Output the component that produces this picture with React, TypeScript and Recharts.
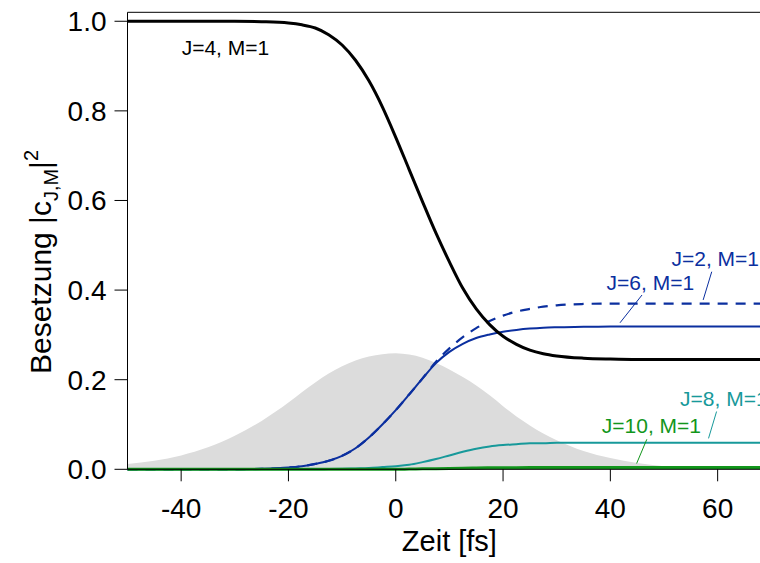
import React from "react";
import {
  ComposedChart,
  Area,
  Line,
  XAxis,
  YAxis,
  ReferenceLine,
  ReferenceDot,
  Label,
} from "recharts";

// time axis in fs
const time = [
  -50, -45, -40, -35, -30, -25, -20, -17.5, -15, -12.5, -10, -7.5, -5, -2.5, 0,
  2.5, 5, 7.5, 10, 12.5, 15, 17.5, 20, 22.5, 25, 27.5, 30, 35, 40, 45, 50, 55,
  60, 65, 70,
];

// laser pulse envelope (grey)
const pulse = [
  0.012, 0.019, 0.031, 0.049, 0.075, 0.108, 0.149, 0.172, 0.194, 0.214, 0.23,
  0.243, 0.252, 0.257, 0.259, 0.256, 0.249, 0.237, 0.223, 0.206, 0.187, 0.165,
  0.141, 0.118, 0.098, 0.08, 0.065, 0.041, 0.025, 0.014, 0.007, 0.003, 0.001,
  0, 0,
];

const j4 = [
  1, 1, 1, 1, 1, 0.999, 0.996, 0.992, 0.985, 0.97, 0.947, 0.913, 0.867, 0.809,
  0.741, 0.669, 0.597, 0.527, 0.463, 0.404, 0.358, 0.323, 0.297, 0.279, 0.266,
  0.258, 0.253, 0.248, 0.246, 0.245, 0.245, 0.245, 0.245, 0.245, 0.245,
];

const j2 = [
  0, 0, 0, 0, 0, 0.001, 0.004, 0.007, 0.012, 0.019, 0.03, 0.047, 0.071, 0.1,
  0.132, 0.167, 0.203, 0.24, 0.27, 0.295, 0.315, 0.331, 0.343, 0.352, 0.358,
  0.363, 0.366, 0.369, 0.37, 0.37, 0.37, 0.37, 0.37, 0.37, 0.37,
];

const j6 = [
  0, 0, 0, 0, 0, 0.001, 0.004, 0.007, 0.012, 0.019, 0.03, 0.047, 0.071, 0.1,
  0.132, 0.167, 0.203, 0.237, 0.262, 0.28, 0.293, 0.301, 0.307, 0.311, 0.314,
  0.316, 0.317, 0.318, 0.319, 0.319, 0.319, 0.319, 0.319, 0.319, 0.319,
];

const j8 = [
  0, 0, 0, 0, 0, 0, 0, 0, 0, 0.0005, 0.001, 0.002, 0.003, 0.005, 0.007, 0.01,
  0.016, 0.023, 0.031, 0.039, 0.046, 0.051, 0.054, 0.056, 0.058, 0.058, 0.059,
  0.059, 0.059, 0.059, 0.059, 0.059, 0.059, 0.059, 0.059,
];

const j10 = [
  0, 0, 0, 0, 0, 0, 0, 0, 0, 0, 0, 0, 0, 0, 0, 0.0005, 0.001, 0.0015, 0.002,
  0.0025, 0.003, 0.0033, 0.0035, 0.0037, 0.0038, 0.004, 0.004, 0.004, 0.004,
  0.004, 0.004, 0.004, 0.004, 0.004, 0.004,
];

const xTicks = [-40, -20, 0, 20, 40, 60];
const yTicks = [0, 0.2, 0.4, 0.6, 0.8, 1.0];

const BLUE = "#0b2f9f";
const TEAL = "#17999a";
const GREEN = "#12961c";
const FONT = "'Liberation Sans', Arial, Helvetica, sans-serif";

// state labels: text anchor (data coords) + leader line
const labels = [
  { text: "J=4, M=1", x: -39.9, y: 0.925, color: "#000", leader: null },
  { text: "J=2, M=1", x: 51.4, y: 0.454, color: BLUE, leader: [58.9, 0.441, 57.3, 0.378] },
  { text: "J=6, M=1", x: 39.3, y: 0.401, color: BLUE, leader: [45.9, 0.389, 41.8, 0.327] },
  { text: "J=8, M=1", x: 53.0, y: 0.141, color: TEAL, leader: [59.8, 0.129, 58.3, 0.069] },
  { text: "J=10, M=1", x: 38.4, y: 0.08, color: GREEN, leader: [46.8, 0.067, 44.9, 0.013] },
];

const data = time.map((t, i) => ({
  t,
  pulse: pulse[i],
  j4: j4[i],
  j2: j2[i],
  j6: j6[i],
  j8: j8[i],
  j10: j10[i],
}));

const YTitle = () => (
  <text
    transform="rotate(-90)"
    x={-262}
    y={51}
    textAnchor="middle"
    fontSize={30}
    fontFamily={FONT}
    fill="#000"
  >
    Besetzung |c
    <tspan fontSize={20} dy={7}>
      J,M
    </tspan>
    <tspan dy={-7}>|</tspan>
    <tspan fontSize={20} dy={-13}>
      2
    </tspan>
  </text>
);

const XTitle = (props: any) => {
  const vb = props.viewBox;
  return (
    <text
      x={vb.x + vb.width / 2}
      y={vb.y + 82}
      textAnchor="middle"
      fontSize={29}
      fontFamily={FONT}
      fill="#000"
    >
      Zeit [fs]
    </text>
  );
};

export default function App() {
  return (
    <div
      style={{
        position: "fixed",
        left: 0,
        top: 0,
        width: 760,
        height: 563,
        overflow: "hidden",
        background: "#fff",
      }}
    >
      <ComposedChart
        width={780}
        height={563}
        data={data}
        margin={{ top: 12.3, right: 8.7, left: 0, bottom: 33.7 }}
      >
        <XAxis
          dataKey="t"
          type="number"
          domain={[-50, 70]}
          ticks={xTicks}
          height={60}
          tickSize={12}
          tickMargin={17}
          stroke="#000"
          axisLine={{ stroke: "#000", strokeWidth: 1 }}
          tickLine={{ stroke: "#000", strokeWidth: 1 }}
          tick={{ fill: "#000", fontSize: 28, fontFamily: FONT }}
        >
          <Label content={XTitle} />
        </XAxis>
        <YAxis
          type="number"
          domain={[0, 1.02]}
          ticks={yTicks}
          width={127.5}
          tickSize={13}
          tickMargin={8}
          tickFormatter={(v: number) => v.toFixed(1)}
          axisLine={{ stroke: "#000", strokeWidth: 1 }}
          tickLine={{ stroke: "#000", strokeWidth: 1 }}
          tick={{ fill: "#000", fontSize: 28, fontFamily: FONT }}
        >
          <Label content={YTitle} />
        </YAxis>
        <ReferenceLine y={1.02} stroke="#000" strokeWidth={1} />
        <Area
          dataKey="pulse"
          type="monotone"
          fill="#dcdcdc"
          fillOpacity={1}
          stroke="none"
          isAnimationActive={false}
        />
        <Line dataKey="j8" type="monotone" stroke={TEAL} strokeWidth={2} dot={false} isAnimationActive={false} />
        <Line dataKey="j6" type="monotone" stroke={BLUE} strokeWidth={2} dot={false} isAnimationActive={false} />
        <Line
          dataKey="j2"
          type="monotone"
          stroke={BLUE}
          strokeWidth={2.2}
          strokeDasharray="10 8"
          dot={false}
          isAnimationActive={false}
        />
        <Line dataKey="j4" type="monotone" stroke="#000" strokeWidth={3} dot={false} isAnimationActive={false} />
        <Line dataKey="j10" type="monotone" stroke={GREEN} strokeWidth={3} dot={false} isAnimationActive={false} />
        {labels
          .filter((l) => l.leader)
          .map((l) => (
            <ReferenceLine
              key={"lead-" + l.text}
              segment={[
                { x: l.leader![0], y: l.leader![1] },
                { x: l.leader![2], y: l.leader![3] },
              ]}
              stroke={l.color}
              strokeWidth={1}
            />
          ))}
        {labels.map((l) => (
          <ReferenceDot
            key={l.text}
            x={l.x}
            y={l.y}
            shape={(p: any) => (
              <text
                x={p.cx}
                y={p.cy}
                fontSize={21}
                fontFamily={FONT}
                fill={l.color}
                textAnchor="start"
              >
                {l.text}
              </text>
            )}
          />
        ))}
      </ComposedChart>
    </div>
  );
}
